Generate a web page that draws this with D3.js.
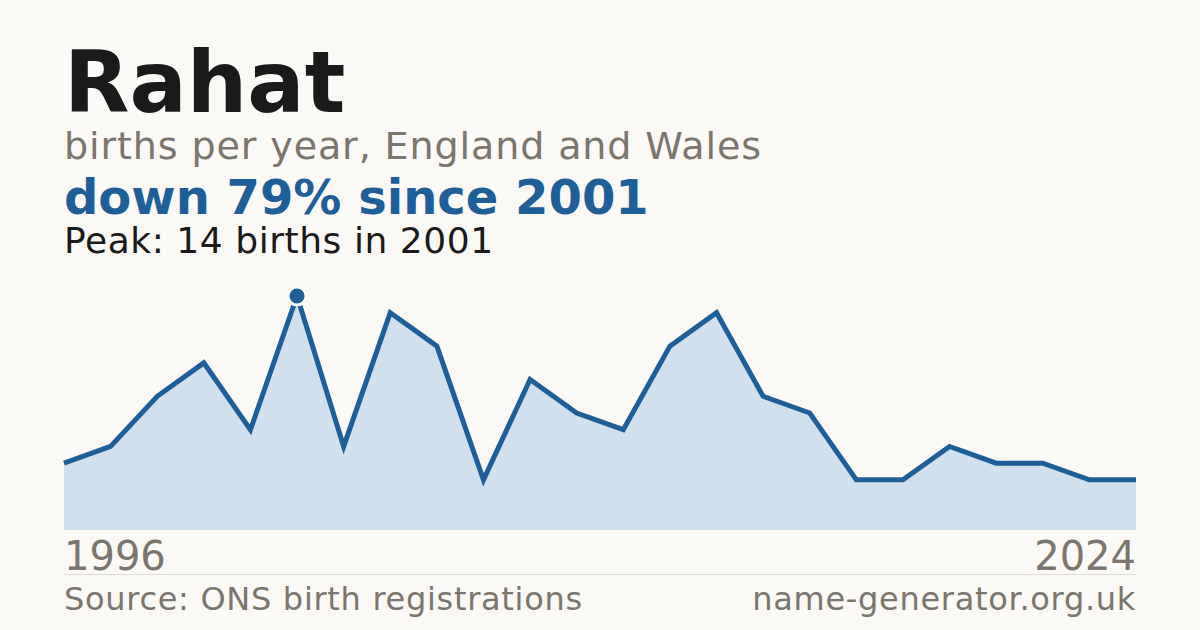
<!DOCTYPE html>
<html>
<head>
<meta charset="utf-8">
<script src="https://cdn.jsdelivr.net/npm/d3@7"></script>
<style>
  html, body { margin: 0; padding: 0; background: #faf9f5; }
  svg { display: block; font-family: "DejaVu Sans", sans-serif; }
</style>
</head>
<body>
<svg id="chart"></svg>
<script>
// DATA
const years = ["1996", "1997", "1998", "1999", "2000", "2001", "2003", "2004", "2005", "2006",
               "2008", "2009", "2010", "2012", "2013", "2014", "2015", "2017", "2018", "2019",
               "2021", "2022", "2023", "2024"];
const births = [4, 5, 8, 10, 6, 14, 5, 13, 11, 3, 9, 7, 6, 11, 13, 8, 7, 3, 3, 5, 4, 4, 3, 3];
const axisLabels = ["1996", "2024"];

const name = "Rahat";
const subtitle = "births per year, England and Wales";
const headline = "down 79% since 2001";
const peakText = "Peak: 14 births in 2001";
const source = "Source: ONS birth registrations";
const site = "name-generator.org.uk";

const width = 1200, height = 630;
const margin = { left: 64, right: 64 };
const blue = "#1f5f99", grey = "#7a756d", bg = "#faf9f5";

const svg = d3.select("#chart")
    .attr("width", width)
    .attr("height", height);

svg.append("rect")
    .attr("width", width)
    .attr("height", height)
    .attr("fill", bg);

// headings
svg.append("text")
    .attr("x", margin.left).attr("y", 112)
    .attr("font-size", 85).attr("font-weight", "bold")
    .attr("fill", "#1a1a1a")
    .text(name);

svg.append("text")
    .attr("x", margin.left).attr("y", 159)
    .attr("font-size", 38)
    .attr("letter-spacing", 0.9)
    .attr("fill", grey)
    .text(subtitle);

svg.append("text")
    .attr("x", margin.left).attr("y", 214)
    .attr("font-size", 48).attr("font-weight", "bold")
    .attr("fill", blue)
    .text(headline);

svg.append("text")
    .attr("x", margin.left).attr("y", 253)
    .attr("font-size", 36)
    .attr("letter-spacing", 0.55)
    .attr("fill", "#1a1a1a")
    .text(peakText);

// SCALES
const x = d3.scalePoint()
    .domain(years)
    .range([margin.left, width - margin.right]);

const y = d3.scaleLinear()
    .domain([0, 14])
    .range([530, 296]);

const data = years.map((yr, i) => ({ year: yr, value: births[i] }));

const area = d3.area()
    .x(d => x(d.year))
    .y0(y(0))
    .y1(d => y(d.value));

const line = d3.line()
    .x(d => x(d.year))
    .y(d => y(d.value));

svg.append("path")
    .datum(data)
    .attr("d", area)
    .attr("fill", "#d0e0ef");

svg.append("path")
    .datum(data)
    .attr("d", line)
    .attr("fill", "none")
    .attr("stroke", blue)
    .attr("stroke-width", 5)
    .attr("stroke-linejoin", "miter");

// peak marker
const peak = data[d3.maxIndex(data, d => d.value)];
svg.append("circle")
    .attr("cx", x(peak.year))
    .attr("cy", y(peak.value))
    .attr("r", 9)
    .attr("fill", blue)
    .attr("stroke", bg)
    .attr("stroke-width", 3);

// axis end labels
svg.append("text")
    .attr("x", x(axisLabels[0])).attr("y", 570)
    .attr("font-size", 40)
    .attr("fill", grey)
    .text(axisLabels[0]);

svg.append("text")
    .attr("x", x(axisLabels[1])).attr("y", 570)
    .attr("text-anchor", "end")
    .attr("font-size", 40)
    .attr("fill", grey)
    .text(axisLabels[1]);

// footer
svg.append("line")
    .attr("x1", margin.left).attr("x2", width - margin.right)
    .attr("y1", 574.5).attr("y2", 574.5)
    .attr("stroke", "#dedbd3")
    .attr("stroke-width", 1);

svg.append("text")
    .attr("x", margin.left).attr("y", 610)
    .attr("font-size", 32)
    .attr("letter-spacing", 0.7)
    .attr("fill", grey)
    .text(source);

svg.append("text")
    .attr("x", width - margin.right).attr("y", 610)
    .attr("text-anchor", "end")
    .attr("font-size", 32)
    .attr("letter-spacing", 0.7)
    .attr("fill", grey)
    .text(site);
</script>
</body>
</html>
